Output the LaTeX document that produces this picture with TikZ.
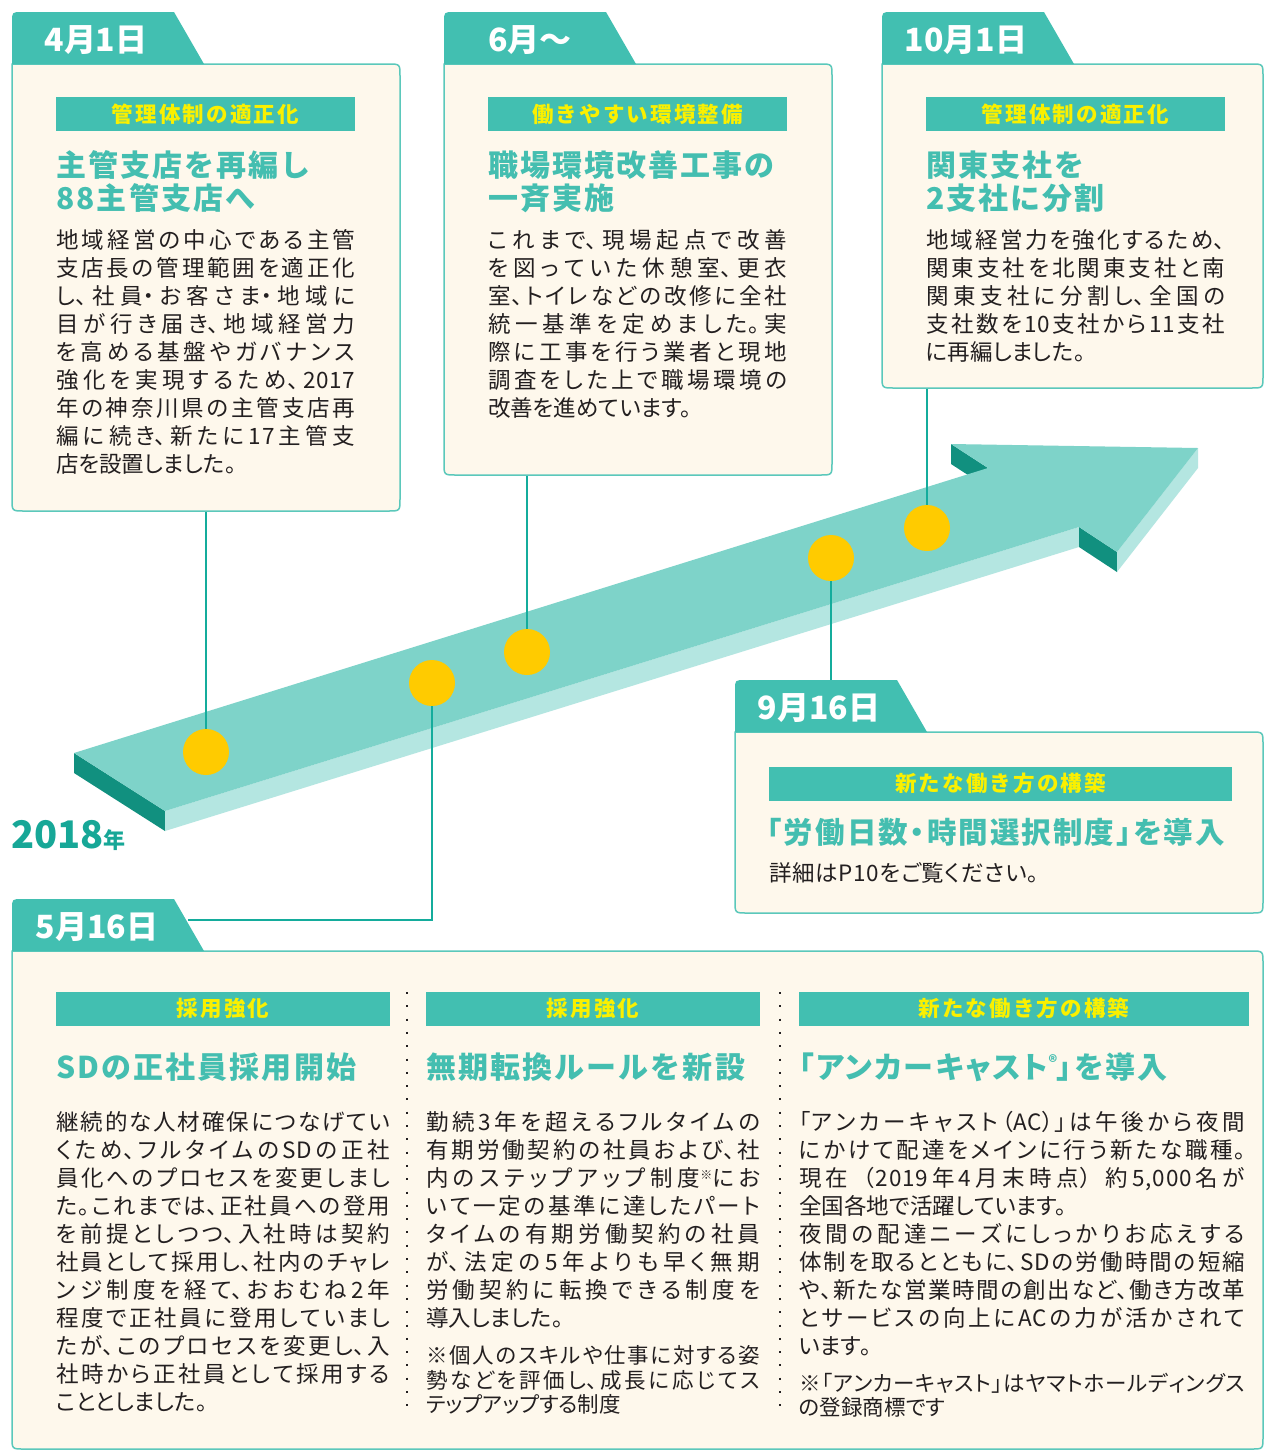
\documentclass[tikz,border=0pt]{standalone}
\usepackage{fontspec}
\setmainfont{Noto Sans CJK JP}
\newfontfamily\bodyf{Noto Sans CJK JP}[RawFeature=+palt,LetterSpace=3]
\newfontfamily\bodynf{Noto Sans CJK JP}[LetterSpace=3]
\newfontfamily\headf{Noto Sans CJK JP}[LetterSpace=7]
\newfontfamily\headpf{Noto Sans CJK JP}[RawFeature=+palt,LetterSpace=7]
\newfontfamily\labf{Noto Sans CJK JP}[LetterSpace=10]
\XeTeXlinebreaklocale "ja"
\XeTeXlinebreakskip=0pt plus 10pt
\tolerance=10000
\hbadness=10000
\hfuzz=100pt
\parindent=0pt
\definecolor{tabc}{HTML}{42BFB1}
\definecolor{headc}{HTML}{44BEB0}
\definecolor{cream}{HTML}{FEF8EC}
\definecolor{boxc}{HTML}{5BC8BB}
\definecolor{labely}{HTML}{FAF000}
\definecolor{bodyc}{HTML}{231F20}
\definecolor{connc}{HTML}{14AC9C}
\definecolor{doty}{HTML}{FFCB00}
\definecolor{atop}{HTML}{7ED3C9}
\definecolor{alight}{HTML}{B4E6E1}
\definecolor{adark}{HTML}{11907F}
\definecolor{yearc}{HTML}{17A797}
\newcommand\jlb{\linebreak}
\newcommand\tlbox[5]{%
  \draw[boxline] (#1,#3) -- ({#4-12},#3) .. controls (#4,#3) .. (#4,{#3+12}) -- (#4,{#5-12}) .. controls (#4,#5) .. ({#4-12},#5) -- ({#1+12},#5) .. controls (#1,#5) .. (#1,{#5-12}) -- cycle;
  \fill[tabc] (#1,#3) -- (#1,{#2+10}) .. controls (#1,#2) .. ({#1+10},#2) -- ({#1+162},#2) -- ({#1+192},#3) -- cycle;
}
\begin{document}
\begin{tikzpicture}[x=1pt,y=-1pt,
  boxline/.style={draw=boxc, line width=1.5pt, fill=cream},
  tabtext/.style={anchor=center, inner sep=0, text=white, font=\bfseries\fontsize{32}{32}\selectfont},
  labelbar/.style={fill=tabc, inner sep=0, minimum height=34, text=labely, font=\labf\bfseries\fontsize{21.5}{22}\selectfont},
  headtext/.style={anchor=base west, inner sep=0, align=left, text=headc, font=\headf\bfseries\fontsize{30}{33}\selectfont},
  headptext/.style={headtext, font=\headpf\bfseries\fontsize{30}{33}\selectfont},
  bodytext/.style={anchor=base west, inner sep=0, align=justify, text=bodyc, font=\bodyf\fontsize{22.5}{28}\selectfont},
  notetext/.style={anchor=base west, inner sep=0, align=justify, text=bodyc, font=\bodyf\fontsize{21.5}{24.5}\selectfont},
  conn/.style={draw=connc, line width=2.5pt},
  ydot/.style={circle, fill=doty, minimum size=46, inner sep=0},
  sepline/.style={draw=bodyc, line width=2pt, dash pattern=on 2pt off 11.3pt}
]
\useasboundingbox (0,0) rectangle (1264,1452);
\fill[white] (0,0) rectangle (1264,1452);

% arrow
\fill[adark] (74,753) -- (165,811) -- (165,831) -- (74,773) -- cycle;
\fill[alight] (165,811) -- (1079,527) -- (1079,547) -- (165,831) -- cycle;
\fill[adark] (1079,527) -- (1117,552) -- (1117,572) -- (1079,547) -- cycle;
\fill[alight] (1117,552) -- (1198,448) -- (1198,468) -- (1117,572) -- cycle;
\fill[adark] (951,444) -- (988,468) -- (988,488) -- (951,464) -- cycle;
\fill[atop] (74,753) -- (988,468) -- (951,444) -- (1198,448) -- (1117,552) -- (1079,527) -- (165,811) -- cycle;

\node[anchor=base west, inner sep=0, text=yearc, font=\bfseries\fontsize{38}{38}\selectfont] (yr) at (11,848) {2018{\fontsize{22}{22}\selectfont 年}};

% dots and connectors
\coordinate (c1) at (206,511);
\coordinate (c3) at (527,475);
\coordinate (c5) at (927,388);
\coordinate (c4) at (831,680);
\coordinate (c2) at (188,920);
\node[ydot] (dot1) at (206,752) {};
\node[ydot] (dot2) at (432,683) {};
\node[ydot] (dot3) at (527,652) {};
\node[ydot] (dot4) at (831,558) {};
\node[ydot] (dot5) at (927,528) {};
\draw[conn] (c1) -- (dot1);
\draw[conn] (c3) -- (dot3);
\draw[conn] (c5) -- (dot5);
\draw[conn] (dot4) -- (c4);
\draw[conn] (dot2) |- (c2);

% boxes
\tlbox{12}{12}{64}{400}{511}
\tlbox{444}{12}{64}{832}{475}
\tlbox{882}{12}{64}{1263}{388}
\tlbox{735}{680}{732}{1263}{913}
\tlbox{12}{899}{951}{1263}{1449}

% box 1
\node[tabtext] (d1) at (96,40) {4月1日};
\node[labelbar, minimum width=299] (l1) at (205.5,114) {管理体制の適正化};
\node[headtext] (h1) at (56,209) {主管支店を再編し\\88主管支店へ};
\node[bodytext, text width=299] (t1) at (56,248.5) {地域経営の中心である主管\jlb 支店長の管理範囲を適正化\jlb し、社員・お客さま・地域に\jlb 目が行き届き、地域経営力\jlb を高める基盤やガバナンス\jlb 強化を実現するため、2017\jlb 年の神奈川県の主管支店再\jlb 編に続き、新たに17主管支\jlb 店を設置しました。};

% box 2
\node[tabtext] (d2) at (530,40) {6月〜};
\node[labelbar, minimum width=299] (l2) at (637.5,114) {働きやすい環境整備};
\node[headtext] (h2) at (488,209) {職場環境改善工事の\\一斉実施};
\node[bodytext, text width=299] (t2) at (488,248.5) {これまで、現場起点で改善\jlb を図っていた休憩室、更衣\jlb 室、トイレなどの改修に全社\jlb 統一基準を定めました。実\jlb 際に工事を行う業者と現地\jlb 調査をした上で職場環境の\jlb 改善を進めています。};

% box 3
\node[tabtext] (d3) at (966,40) {10月1日};
\node[labelbar, minimum width=299] (l3) at (1075.5,114) {管理体制の適正化};
\node[headtext] (h3) at (926,209) {関東支社を\\2支社に分割};
\node[bodytext, text width=299] (t3) at (926,248.5) {地域経営力を強化するため、\jlb 関東支社を北関東支社と南\jlb 関東支社に分割し、全国の\jlb 支社数を10支社から11支社\jlb に再編しました。};

% box 4
\node[tabtext] (d4) at (819,708) {9月16日};
\node[labelbar, minimum width=463] (l4) at (1000.5,783.5) {新たな働き方の構築};
\node[headptext, font=\headpf\bfseries\fontsize{29.5}{30}\selectfont] (h4) at (767,843) {「労働日数・時間選択制度」を導入};
\node[bodytext] (t4) at (769,881) {詳細はP10をご覧ください。};

% box 5
\node[tabtext] (d5) at (97,927) {5月16日};
\draw[sepline] (407,992) -- (407,1412);
\draw[sepline] (780,992) -- (780,1412);

\node[labelbar, minimum width=334] (l5a) at (223,1008.5) {採用強化};
\node[headtext] (h5a) at (56,1078.5) {SDの正社員採用開始};
\node[bodytext, text width=334] (t5a) at (56,1130.5) {継続的な人材確保につなげてい\jlb くため、フルタイムのSDの正社\jlb 員化へのプロセスを変更しまし\jlb た。これまでは、正社員への登用\jlb を前提としつつ、入社時は契約\jlb 社員として採用し、社内のチャレ\jlb ンジ制度を経て、おおむね2年\jlb 程度で正社員に登用していまし\jlb たが、このプロセスを変更し、入\jlb 社時から正社員として採用する\jlb こととしました。};

\node[labelbar, minimum width=334] (l5b) at (593,1008.5) {採用強化};
\node[headtext] (h5b) at (426,1078.5) {無期転換ルールを新設};
\node[bodytext, text width=334] (t5b) at (426,1130.5) {勤続3年を超えるフルタイムの\jlb 有期労働契約の社員および、社\jlb 内のステップアップ制度\raisebox{7pt}{\fontsize{12}{12}\selectfont ※}にお\jlb いて一定の基準に達したパート\jlb タイムの有期労働契約の社員\jlb が、法定の5年よりも早く無期\jlb 労働契約に転換できる制度を\jlb 導入しました。};
\node[notetext, text width=334] (n5b) at (426,1363.5) {※個人のスキルや仕事に対する姿\jlb 勢などを評価し、成長に応じてス\jlb テップアップする制度};

\node[labelbar, minimum width=450] (l5c) at (1024,1008.5) {新たな働き方の構築};
\node[headptext] (h5c) at (799,1078.5) {「アンカーキャスト\raisebox{10pt}{\fontsize{17}{17}\selectfont ®}」を導入};
\node[bodytext, text width=446] (t5c) at (799,1130.5) {「アンカーキャスト（AC）」は午後から夜間\jlb にかけて配達をメインに行う新たな職種。\jlb {\bodynf 現在（2019年4月末時点）約5,000名が}\jlb 全国各地で活躍しています。\\夜間の配達ニーズにしっかりお応えする\jlb 体制を取るとともに、SDの労働時間の短縮\jlb や、新たな営業時間の創出など、働き方改革\jlb とサービスの向上にACの力が活かされて\jlb います。};
\node[notetext, text width=446] (n5c) at (799,1391) {※「アンカーキャスト」はヤマトホールディングス\jlb の登録商標です};
\end{tikzpicture}
\end{document}
